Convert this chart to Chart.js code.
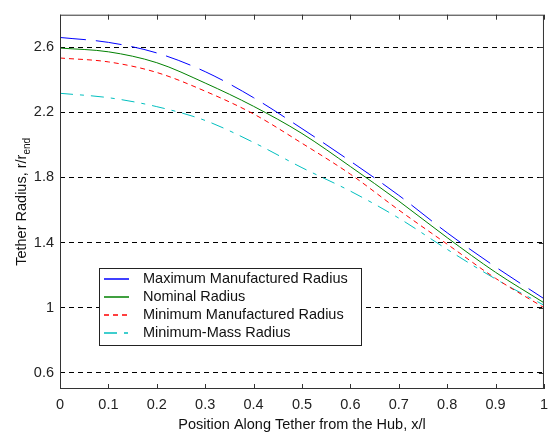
<!DOCTYPE html>
<html lang="en">
<head>
<meta charset="UTF-8">
<title>Tether Radius</title>
<script src="https://cdn.jsdelivr.net/npm/chart.js"></script>
<style>
  body { margin: 0; background: #fff; }
</style>
</head>
<body>
<canvas id="tetherChart" width="555" height="432"></canvas>
<script>
    // positions along the tether (x/l)
    const xPos = [0, 0.1, 0.2, 0.3, 0.4, 0.5, 0.6, 0.7, 0.8, 0.9, 1];

    // radius profiles r/r_end
    const maxRadius = [2.66, 2.63, 2.565, 2.45, 2.29, 2.10, 1.90, 1.69, 1.46, 1.25, 1.055];
    const nominalRadius = [2.595, 2.572, 2.505, 2.38, 2.237, 2.07, 1.867, 1.655, 1.43, 1.217, 1.03];
    const minRadius = [2.534, 2.51, 2.445, 2.33, 2.19, 2.01, 1.82, 1.60, 1.39, 1.18, 1.0];
    const minMassRadius = [2.317, 2.29, 2.235, 2.15, 2.015, 1.86, 1.716, 1.55, 1.358, 1.176, 1.015];

    const seriesLabels = ['Maximum Manufactured Radius', 'Nominal Radius',
        'Minimum Manufactured Radius', 'Minimum-Mass Radius'];
    const seriesColors = ['#0000ff', '#008000', '#ff0000', '#00bfbf'];
    const seriesDashes = [[26, 10], [], [5, 4], [13, 7, 4, 7]];

    // tick labels
    const xTicks = [0, 0.1, 0.2, 0.3, 0.4, 0.5, 0.6, 0.7, 0.8, 0.9, 1];
    const yTicks = [0.6, 1, 1.4, 1.8, 2.2, 2.6];

    const FONT = 'Arial, "Liberation Sans", Helvetica, sans-serif';
    const FONT_SIZE = 14.5;

    function toPoints(values) {
        return values.map((v, i) => ({ x: xPos[i], y: v }));
    }

    function makeLine(i, values) {
        return {
            label: seriesLabels[i],
            data: toPoints(values),
            borderColor: seriesColors[i],
            borderWidth: 1,
            borderDash: seriesDashes[i],
            pointRadius: 0,
            fill: false,
            cubicInterpolationMode: 'monotone'
        };
    }

    // frame, inward tick marks, legend and y title with subscript
    const matlabFrame = {
        id: 'matlabFrame',
        afterDraw(chart) {
            const { ctx, chartArea: a, scales: { x, y } } = chart;
            ctx.save();
            ctx.strokeStyle = '#333';
            ctx.lineWidth = 1;
            ctx.setLineDash([]);

            // tick marks pointing into the plot
            xTicks.forEach(v => {
                const px = Math.round(x.getPixelForValue(v)) + 0.5;
                ctx.beginPath();
                ctx.moveTo(px, a.bottom); ctx.lineTo(px, a.bottom - 5);
                ctx.moveTo(px, a.top); ctx.lineTo(px, a.top + 5);
                ctx.stroke();
            });
            yTicks.forEach(v => {
                const py = Math.round(y.getPixelForValue(v)) + 0.5;
                ctx.beginPath();
                ctx.moveTo(a.right, py); ctx.lineTo(a.right - 5, py);
                ctx.stroke();
            });

            ctx.strokeRect(a.left + 0.5, a.top + 0.5, a.width - 1, a.height - 1);

            // legend box
            const lx = 99.5, ly = 268.5, lw = 262, lh = 77;
            ctx.fillStyle = '#fff';
            ctx.fillRect(lx, ly, lw, lh);
            ctx.strokeStyle = '#222';
            ctx.strokeRect(lx, ly, lw, lh);
            ctx.font = FONT_SIZE + 'px ' + FONT;
            ctx.textBaseline = 'middle';
            ctx.textAlign = 'left';
            seriesLabels.forEach((label, i) => {
                const ry = Math.round(ly + 10 + i * 18.3);
                ctx.strokeStyle = seriesColors[i];
                ctx.lineWidth = 1.5;
                ctx.setLineDash(seriesDashes[i]);
                ctx.beginPath();
                ctx.moveTo(104, ry); ctx.lineTo(129, ry);
                ctx.stroke();
                ctx.setLineDash([]);
                ctx.fillStyle = '#111';
                ctx.fillText(label, 143, ry);
            });

            // y axis title: Tether Radius, r/r_end
            ctx.translate(22, (a.top + a.bottom) / 2);
            ctx.rotate(-Math.PI / 2);
            ctx.fillStyle = '#111';
            const main = 'Tether Radius, r/r';
            ctx.font = FONT_SIZE + 'px ' + FONT;
            const mw = ctx.measureText(main).width;
            ctx.font = '10px ' + FONT;
            const sw = ctx.measureText('end').width;
            const start = -(mw + sw) / 2;
            ctx.font = FONT_SIZE + 'px ' + FONT;
            ctx.textAlign = 'left';
            ctx.textBaseline = 'alphabetic';
            ctx.fillText(main, start, 4);
            ctx.font = '10px ' + FONT;
            ctx.fillText('end', start + mw, 8);
            ctx.restore();
        }
    };

    const ctx = document.getElementById('tetherChart').getContext('2d');
    const tetherChart = new Chart(ctx, {
        type: 'line',
        data: {
            datasets: [
                makeLine(0, maxRadius),
                makeLine(1, nominalRadius),
                makeLine(2, minRadius),
                makeLine(3, minMassRadius)
            ]
        },
        options: {
            responsive: false,
            animation: false,
            layout: { padding: { top: 6, right: 6, left: 0, bottom: 0 } },
            plugins: {
                legend: { display: false },
                tooltip: { enabled: false }
            },
            scales: {
                x: {
                    type: 'linear',
                    min: 0,
                    max: 1,
                    afterFit: s => { s.height = 43; },
                    afterBuildTicks: s => { s.ticks = xTicks.map(v => ({ value: v })); },
                    grid: { display: false, drawTicks: false },
                    border: { display: false },
                    ticks: {
                        padding: 7,
                        color: '#222',
                        font: { family: FONT, size: FONT_SIZE },
                        maxRotation: 0,
                        autoSkip: false,
                        callback: v => String(Math.round(v * 10) / 10)
                    },
                    title: {
                        display: true,
                        text: 'Position Along Tether from the Hub, x/l',
                        color: '#111',
                        font: { family: FONT, size: FONT_SIZE },
                        padding: { top: 0, bottom: -2 }
                    }
                },
                y: {
                    type: 'linear',
                    min: 0.5,
                    max: 2.8,
                    afterFit: s => { s.width = 60; },
                    afterBuildTicks: s => { s.ticks = yTicks.map(v => ({ value: v })); },
                    grid: { color: '#000', lineWidth: 1, drawTicks: false },
                    border: { display: false, dash: [5, 4] },
                    ticks: {
                        padding: 6,
                        color: '#222',
                        font: { family: FONT, size: FONT_SIZE },
                        autoSkip: false,
                        callback: v => String(Math.round(v * 10) / 10)
                    }
                }
            }
        },
        plugins: [matlabFrame]
    });
</script>
</body>
</html>
